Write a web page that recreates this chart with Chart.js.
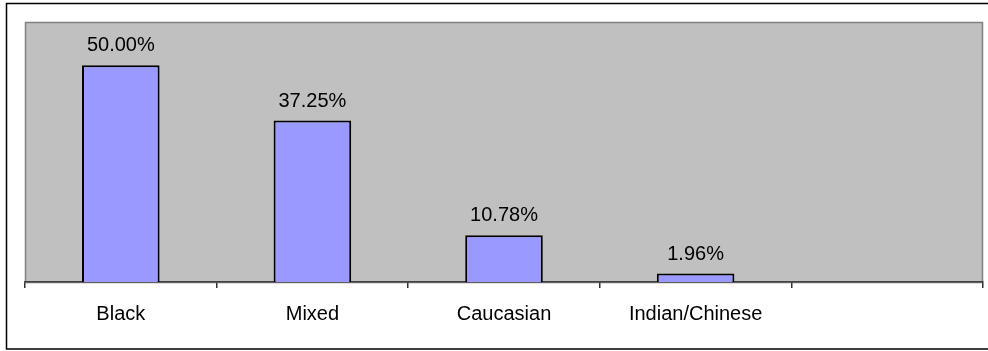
<!DOCTYPE html>
<html lang="en">
<head>
  <meta charset="UTF-8">
  <title>Ethnic groups</title>
  <script src="https://cdn.jsdelivr.net/npm/chart.js"></script>
  <style>
    body { margin: 0; background: #fff; }
  </style>
</head>
<body>
  <canvas id="myChart" width="988" height="351"></canvas>
  <script>
    // values
    const categories = ['Black', 'Mixed', 'Caucasian', 'Indian/Chinese', ''];
    const percentages = [50.00, 37.25, 10.78, 1.96, null];
    const yMax = 60;

    const fontFamily = "'Liberation Sans', Arial, sans-serif";

    // grey plot area + outer frame
    const backgroundPlugin = {
      id: 'background',
      beforeDraw(chart) {
        const ctx = chart.ctx;
        const a = chart.chartArea;
        ctx.save();
        ctx.strokeStyle = '#000';
        ctx.lineWidth = 1.5;
        ctx.strokeRect(6.5, 3.5, 990, 345.5);
        ctx.fillStyle = '#c0c0c0';
        ctx.fillRect(a.left, a.top, a.right - a.left, a.bottom - a.top);
        ctx.strokeStyle = '#808080';
        ctx.lineWidth = 1.5;
        ctx.strokeRect(a.left + 0.5, a.top + 0.5, a.right - a.left - 1, a.bottom - a.top);
        ctx.restore();
      }
    };

    // percentage labels over the bars
    const valueLabels = {
      id: 'valueLabels',
      afterDatasetsDraw(chart) {
        const ctx = chart.ctx;
        const meta = chart.getDatasetMeta(0);
        ctx.save();
        ctx.fillStyle = '#000';
        ctx.font = '20px ' + fontFamily;
        ctx.textAlign = 'center';
        ctx.textBaseline = 'middle';
        meta.data.forEach((bar, i) => {
          const v = percentages[i];
          if (v === null) return;
          ctx.fillText(v.toFixed(2) + '%', bar.x, bar.y - 19.5);
        });
        ctx.restore();
      }
    };

    const ctx = document.getElementById('myChart').getContext('2d');
    const myChart = new Chart(ctx, {
      type: 'bar',
      data: {
        labels: categories,
        datasets: [{
          data: percentages,
          backgroundColor: '#9999ff',
          borderColor: '#000',
          borderWidth: 2,
          borderSkipped: 'bottom',
          categoryPercentage: 1.0,
          barPercentage: 0.405
        }]
      },
      options: {
        responsive: false,
        animation: false,
        layout: {
          padding: { left: 25, top: 22, right: 5, bottom: 0 }
        },
        plugins: {
          legend: { display: false },
          tooltip: { enabled: false }
        },
        scales: {
          x: {
            grid: {
              offset: true,
              drawOnChartArea: false,
              drawTicks: true,
              tickLength: 6,
              tickColor: '#333',
              lineWidth: 1.5
            },
            border: { display: true, color: '#404040', width: 1.5 },
            ticks: {
              color: '#000',
              padding: 14,
              maxRotation: 0,
              autoSkip: false,
              font: { family: fontFamily, size: 20 }
            },
            afterFit(scale) {
              scale.height = 69;
            }
          },
          y: {
            display: false,
            min: 0,
            max: yMax
          }
        }
      },
      plugins: [backgroundPlugin, valueLabels]
    });
  </script>
</body>
</html>
